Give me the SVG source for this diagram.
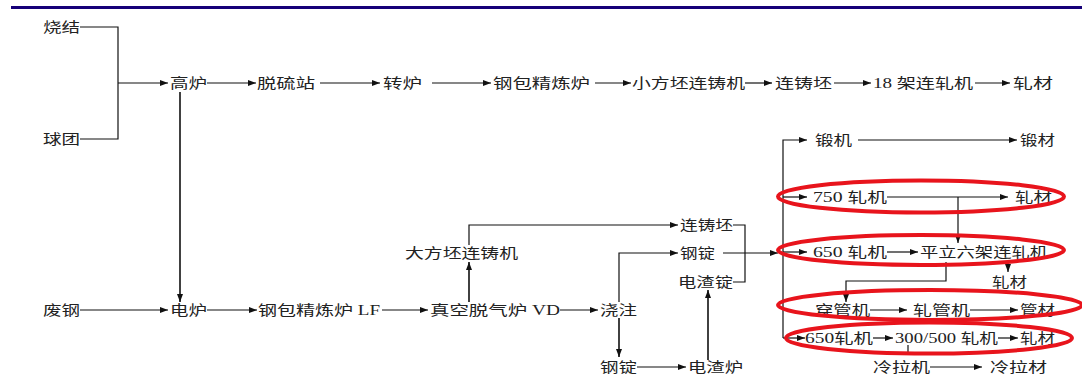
<svg xmlns="http://www.w3.org/2000/svg" width="1082" height="383" viewBox="0 0 1082 383">
<style>
text{font-family:"Liberation Serif","Noto Sans CJK SC",serif;font-size:14px;fill:#222;}
.c path{fill:none;stroke:#111;stroke-width:1.2;}
.e{fill:none;stroke:#e8141c;stroke-width:4;}
</style>
<defs>
<marker id="a" markerUnits="userSpaceOnUse" markerWidth="8" markerHeight="6" refX="8" refY="3" orient="auto">
<path d="M0,0 L8,3 L0,6 z" fill="#111"/>
</marker>
</defs>
<rect x="11" y="6" width="1071" height="3" fill="#160078"/>
<g class="c">
<path d="M80,27 H118 V139 H80"/>
<path d="M118,83 H168" marker-end="url(#a)"/>
<path d="M207,83 H256" marker-end="url(#a)"/>
<path d="M320,83 H380" marker-end="url(#a)"/>
<path d="M432,83 H491" marker-end="url(#a)"/>
<path d="M595,83 H631" marker-end="url(#a)"/>
<path d="M745,83 H772" marker-end="url(#a)"/>
<path d="M834,83 H871" marker-end="url(#a)"/>
<path d="M975,83 H1010" marker-end="url(#a)"/>
<path d="M180,92 V302" marker-end="url(#a)" style="stroke-width:1.6"/>
<path d="M80,310 H168" marker-end="url(#a)"/>
<path d="M207,310 H257" marker-end="url(#a)"/>
<path d="M382,310 H428" marker-end="url(#a)"/>
<path d="M560,310 H598" marker-end="url(#a)"/>
<path d="M469,302 V262" marker-end="url(#a)" style="stroke-width:1.6"/>
<path d="M469,245 V225 H678" marker-end="url(#a)"/>
<path d="M733,225 H745 V282 H733"/>
<path d="M619,302 V253 H678" marker-end="url(#a)"/>
<path d="M723,253 H778" marker-end="url(#a)"/>
<path d="M619,318 V357" marker-end="url(#a)" style="stroke-width:1.6"/>
<path d="M637,367 H686" marker-end="url(#a)"/>
<path d="M708,360 V290" marker-end="url(#a)" style="stroke-width:1.6"/>
<path d="M783,338 V140 H807" marker-end="url(#a)"/>
<path d="M783,197 H807" marker-end="url(#a)"/>
<path d="M783,252 H807" marker-end="url(#a)"/>
<path d="M783,338 H805" marker-end="url(#a)"/>
<path d="M858,140 H1017" marker-end="url(#a)"/>
<path d="M887,197 H1008" marker-end="url(#a)"/>
<path d="M958,197 V243" marker-end="url(#a)"/>
<path d="M887,252 H918" marker-end="url(#a)"/>
<path d="M1008,262 V272" marker-end="url(#a)"/>
<path d="M946,262 V281 H846 V302" marker-end="url(#a)"/>
<path d="M870,310 H907" marker-end="url(#a)"/>
<path d="M970,310 H1018" marker-end="url(#a)"/>
<path d="M873,338 H893" marker-end="url(#a)"/>
<path d="M998,338 H1018" marker-end="url(#a)"/>
<path d="M908,345 V355"/>
<path d="M930,367 H982" marker-end="url(#a)"/>
</g>
<g id="n1"><text x="43" y="32" textLength="37" lengthAdjust="spacingAndGlyphs">烧结</text></g>
<g id="n2"><text x="43" y="144" textLength="37" lengthAdjust="spacingAndGlyphs">球团</text></g>
<g id="n3"><text x="170" y="88" textLength="37" lengthAdjust="spacingAndGlyphs">高炉</text></g>
<g id="n4"><text x="257" y="88" textLength="58" lengthAdjust="spacingAndGlyphs">脱硫站</text></g>
<g id="n5"><text x="383" y="88" textLength="39" lengthAdjust="spacingAndGlyphs">转炉</text></g>
<g id="n6"><text x="493" y="88" textLength="97" lengthAdjust="spacingAndGlyphs">钢包精炼炉</text></g>
<g id="n7"><text x="632" y="88" textLength="113" lengthAdjust="spacingAndGlyphs">小方坯连铸机</text></g>
<g id="n8"><text x="775" y="88" textLength="57" lengthAdjust="spacingAndGlyphs">连铸坯</text></g>
<g id="n9"><text x="873" y="88" textLength="100" lengthAdjust="spacingAndGlyphs">18 架连轧机</text></g>
<g id="n10"><text x="1013" y="88" textLength="40" lengthAdjust="spacingAndGlyphs">轧材</text></g>
<g id="n11"><text x="815" y="145" textLength="37" lengthAdjust="spacingAndGlyphs">锻机</text></g>
<g id="n12"><text x="1020" y="145" textLength="35" lengthAdjust="spacingAndGlyphs">锻材</text></g>
<g id="n13"><text x="813" y="202" textLength="74" lengthAdjust="spacingAndGlyphs">750 轧机</text></g>
<g id="n14"><text x="1015" y="202" textLength="37" lengthAdjust="spacingAndGlyphs">轧材</text></g>
<g id="n15"><text x="813" y="257" textLength="74" lengthAdjust="spacingAndGlyphs">650 轧机</text></g>
<g id="n16"><text x="920" y="257" textLength="128" lengthAdjust="spacingAndGlyphs">平立六架连轧机</text></g>
<g id="n17"><text x="992" y="287" textLength="35" lengthAdjust="spacingAndGlyphs">轧材</text></g>
<g id="n18"><text x="815" y="315" textLength="55" lengthAdjust="spacingAndGlyphs">穿管机</text></g>
<g id="n19"><text x="913" y="315" textLength="57" lengthAdjust="spacingAndGlyphs">轧管机</text></g>
<g id="n20"><text x="1020" y="315" textLength="35" lengthAdjust="spacingAndGlyphs">管材</text></g>
<g id="n21"><text x="805" y="343" textLength="68" lengthAdjust="spacingAndGlyphs">650轧机</text></g>
<g id="n22"><text x="895" y="343" textLength="103" lengthAdjust="spacingAndGlyphs">300/500 轧机</text></g>
<g id="n23"><text x="1020" y="343" textLength="35" lengthAdjust="spacingAndGlyphs">轧材</text></g>
<g id="n24"><text x="873" y="372" textLength="57" lengthAdjust="spacingAndGlyphs">冷拉机</text></g>
<g id="n25"><text x="990" y="372" textLength="57" lengthAdjust="spacingAndGlyphs">冷拉材</text></g>
<g id="n26"><text x="43" y="315" textLength="37" lengthAdjust="spacingAndGlyphs">废钢</text></g>
<g id="n27"><text x="170" y="315" textLength="37" lengthAdjust="spacingAndGlyphs">电炉</text></g>
<g id="n28"><text x="258" y="315" textLength="122" lengthAdjust="spacingAndGlyphs">钢包精炼炉 LF</text></g>
<g id="n29"><text x="430" y="315" textLength="130" lengthAdjust="spacingAndGlyphs">真空脱气炉 VD</text></g>
<g id="n30"><text x="600" y="315" textLength="37" lengthAdjust="spacingAndGlyphs">浇注</text></g>
<g id="n31"><text x="405" y="258" textLength="113" lengthAdjust="spacingAndGlyphs">大方坯连铸机</text></g>
<g id="n32"><text x="680" y="230" textLength="53" lengthAdjust="spacingAndGlyphs">连铸坯</text></g>
<g id="n33"><text x="680" y="258" textLength="35" lengthAdjust="spacingAndGlyphs">钢锭</text></g>
<g id="n34"><text x="678" y="287" textLength="55" lengthAdjust="spacingAndGlyphs">电渣锭</text></g>
<g id="n35"><text x="600" y="372" textLength="37" lengthAdjust="spacingAndGlyphs">钢锭</text></g>
<g id="n36"><text x="688" y="372" textLength="55" lengthAdjust="spacingAndGlyphs">电渣炉</text></g>
<g id="hl">
<ellipse class="e" cx="921" cy="196.5" rx="143" ry="16"/>
<ellipse class="e" cx="921" cy="250" rx="143" ry="15"/>
<ellipse class="e" cx="930" cy="305" rx="152" ry="15"/>
<ellipse class="e" cx="929" cy="338" rx="143" ry="15.5"/>
</g>
</svg>
